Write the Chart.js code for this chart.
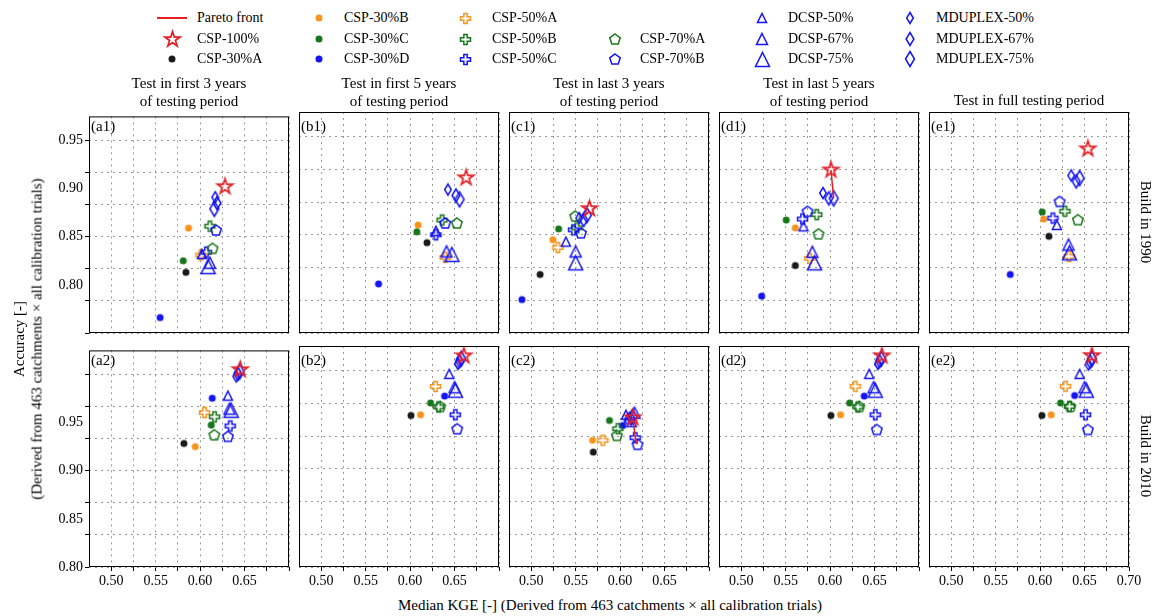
<!DOCTYPE html>
<html>
<head>
<meta charset="utf-8">
<script src="https://cdn.jsdelivr.net/npm/chart.js@4.4.0/dist/chart.umd.min.js"></script>
<style>
  body { margin: 0; background: #fff; }
  #fig { position: relative; width: 1154px; height: 616px; overflow: hidden; background: #fff;
         font-family: 'Liberation Serif', 'Times New Roman', serif; color: #000; }
  .txt { position: absolute; white-space: nowrap; line-height: 1; }
  #fig canvas { position: absolute; }
</style>
</head>
<body>
<div id="fig"></div>
<script>
// methods, in legend order
const methods = ['CSP-100%', 'CSP-30%A', 'CSP-30%B', 'CSP-30%C', 'CSP-30%D',
  'CSP-50%A', 'CSP-50%B', 'CSP-50%C', 'CSP-70%A', 'CSP-70%B',
  'DCSP-50%', 'DCSP-67%', 'DCSP-75%', 'MDUPLEX-50%', 'MDUPLEX-67%', 'MDUPLEX-75%'];

// median KGE / accuracy per method, one pair of arrays per panel
const kgeA1 = [0.628, 0.584, 0.587, 0.581, 0.555, 0.601, 0.611, 0.607, 0.614, 0.618, 0.602, 0.611, 0.609, 0.617, 0.619, 0.616];
const accA1 = [0.902, 0.813, 0.859, 0.825, 0.766, 0.831, 0.861, 0.834, 0.838, 0.857, 0.832, 0.823, 0.819, 0.891, 0.885, 0.879];
const kgeB1 = [0.663, 0.619, 0.609, 0.6076, 0.5645, 0.6395, 0.636, 0.629, 0.6526, 0.6395, 0.629, 0.641, 0.647, 0.6425, 0.6515, 0.6556];
const accB1 = [0.908, 0.842, 0.860, 0.853, 0.800, 0.827, 0.865, 0.850, 0.862, 0.862, 0.854, 0.833, 0.830, 0.896, 0.890, 0.886];
const kgeC1 = [0.5656, 0.510, 0.5244, 0.5308, 0.4895, 0.530, 0.5514, 0.5476, 0.5495, 0.556, 0.539, 0.550, 0.550, 0.554, 0.559, 0.5626];
const accC1 = [0.8766, 0.8096, 0.845, 0.856, 0.784, 0.837, 0.857, 0.855, 0.869, 0.852, 0.843, 0.833, 0.8214, 0.867, 0.865, 0.870];
const kgeD1 = [0.601, 0.5608, 0.5608, 0.5506, 0.523, 0.577, 0.585, 0.569, 0.587, 0.5746, 0.570, 0.580, 0.5825, 0.592, 0.5985, 0.604];
const accD1 = [0.916, 0.8187, 0.857, 0.865, 0.7876, 0.826, 0.8705, 0.866, 0.851, 0.874, 0.8586, 0.8326, 0.8214, 0.8925, 0.887, 0.887];
const kgeE1 = [0.6538, 0.6099, 0.604, 0.6024, 0.5664, 0.6325, 0.628, 0.6144, 0.6425, 0.6219, 0.6188, 0.632, 0.633, 0.635, 0.6406, 0.6444];
const accE1 = [0.9375, 0.8485, 0.866, 0.8732, 0.8096, 0.828, 0.874, 0.867, 0.8654, 0.884, 0.860, 0.840, 0.8316, 0.9104, 0.9043, 0.9077];
const kgeA2 = [0.6451, 0.5818, 0.5945, 0.6125, 0.6136, 0.605, 0.6163, 0.6339, 0.616, 0.6313, 0.6313, 0.633, 0.635, 0.6406, 0.6425, 0.6444];
const accA2 = [1.005, 0.9283, 0.925, 0.9475, 0.9753, 0.9604, 0.956, 0.9465, 0.9374, 0.9357, 0.978, 0.9645, 0.9628, 0.998, 1.0007, 1.003];
const kgeB2 = [0.6605, 0.601, 0.6118, 0.623, 0.6388, 0.6286, 0.632, 0.6508, 0.6339, 0.653, 0.644, 0.650, 0.651, 0.6538, 0.6556, 0.6575];
const accB2 = [1.015, 0.9543, 0.955, 0.967, 0.974, 0.9838, 0.963, 0.955, 0.9635, 0.9408, 0.9966, 0.983, 0.980, 1.0068, 1.0095, 1.012];
const kgeC2 = [0.6144, 0.5698, 0.569, 0.588, 0.6028, 0.5806, 0.5975, 0.617, 0.5964, 0.6196, 0.6066, 0.6163, 0.6103, 0.6085, 0.6122, 0.614];
const accC2 = [0.952, 0.917, 0.929, 0.9492, 0.944, 0.929, 0.9408, 0.9316, 0.934, 0.9249, 0.955, 0.957, 0.950, 0.950, 0.951, 0.953];
const kgeD2 = [0.6583, 0.6009, 0.6118, 0.6219, 0.6384, 0.6283, 0.6313, 0.6508, 0.6328, 0.6526, 0.644, 0.6489, 0.6508, 0.6538, 0.6556, 0.6575];
const accD2 = [1.015, 0.9543, 0.955, 0.967, 0.974, 0.984, 0.963, 0.955, 0.9635, 0.940, 0.9966, 0.983, 0.980, 1.0068, 1.0095, 1.012];
const kgeE2 = [0.6583, 0.602, 0.6125, 0.623, 0.6388, 0.6286, 0.633, 0.6511, 0.634, 0.6538, 0.6444, 0.650, 0.652, 0.6545, 0.6564, 0.6583];
const accE2 = [1.0152, 0.9543, 0.955, 0.967, 0.9746, 0.984, 0.9635, 0.955, 0.9635, 0.940, 0.9966, 0.983, 0.980, 1.006, 1.009, 1.012];

// indices of the methods on each panel's Pareto front
const frontD1 = [0, 15];
const frontC2 = [0, 7, 9];

const xTickLabels = [0.50, 0.55, 0.60, 0.65, 0.70];
const yTickLabels = [0.80, 0.85, 0.90, 0.95];
const colTitles = [['Test in first 3 years', 'of testing period'], ['Test in first 5 years', 'of testing period'],
  ['Test in last 3 years', 'of testing period'], ['Test in last 5 years', 'of testing period'], ['Test in full testing period']];
const rowTitles = ['Build in 1990', 'Build in 2010'];

const RED = '#e61e24', BLACK = '#1a1a1a', ORANGE = '#f7941d', GREEN = '#17761b', BLUE = '#1414f2';
const markerStyle = [
  ['star', RED, 16, false],
  ['circle', BLACK, 7, true], ['circle', ORANGE, 7, true], ['circle', GREEN, 7, true], ['circle', BLUE, 7, true],
  ['plus', ORANGE, 10, false], ['plus', GREEN, 10, false], ['plus', BLUE, 10, false],
  ['pentagon', GREEN, 11, false], ['pentagon', BLUE, 11, false],
  ['triangle', BLUE, 9, false], ['triangle', BLUE, 11, false], ['triangle', BLUE, 14, false],
  ['diamond', BLUE, 11, false], ['diamond', BLUE, 13, false], ['diamond', BLUE, 15, false],
];

function makeMarker(shape, color, size, filled) {
  const lw = shape === 'star' ? 1.7 : 1.5;
  const dim = Math.ceil(size + lw + 3);
  const c = document.createElement('canvas');
  c.width = dim; c.height = dim;
  const g = c.getContext('2d');
  g.translate(dim / 2, dim / 2);
  g.strokeStyle = color; g.fillStyle = color; g.lineWidth = lw; g.lineJoin = 'miter';
  const r = size / 2;
  g.beginPath();
  if (shape === 'circle') {
    g.arc(0, 0, r, 0, Math.PI * 2);
  } else {
    let pts = [];
    if (shape === 'star') {
      for (let k = 0; k < 10; k++) {
        const rr = k % 2 ? r * 0.382 : r, a = -Math.PI / 2 + k * Math.PI / 5;
        pts.push([rr * Math.cos(a), rr * Math.sin(a)]);
      }
    } else if (shape === 'pentagon') {
      for (let k = 0; k < 5; k++) {
        const a = -Math.PI / 2 + k * 2 * Math.PI / 5;
        pts.push([r * Math.cos(a), r * Math.sin(a) + 0.5]);
      }
    } else if (shape === 'triangle') {
      pts = [[0, -r], [r, r], [-r, r]];
    } else if (shape === 'diamond') {
      pts = [[0, -r], [0.6 * r, 0], [0, r], [-0.6 * r, 0]];
    } else if (shape === 'plus') {
      const u = r / 3;
      pts = [[-u, -3 * u], [u, -3 * u], [u, -u], [3 * u, -u], [3 * u, u], [u, u], [u, 3 * u], [-u, 3 * u],
        [-u, u], [-3 * u, u], [-3 * u, -u], [-u, -u]];
    }
    pts.forEach(([x, y], i) => (i ? g.lineTo(x, y) : g.moveTo(x, y)));
    g.closePath();
  }
  if (filled) g.fill(); else g.stroke();
  return c;
}

const markers = markerStyle.map(m => makeMarker(...m));

const fig = document.getElementById('fig');

function addText(str, x, y, size, rot, alignLeft) {
  const d = document.createElement('div');
  d.className = 'txt';
  d.textContent = str;
  d.style.fontSize = size + 'px';
  d.style.left = x + 'px';
  d.style.top = y + 'px';
  d.style.transform = 'translate(' + (alignLeft ? '0' : '-50%') + ', -50%)' + (rot ? ' rotate(' + rot + 'deg)' : '');
  fig.appendChild(d);
}

// panel frames
const PANEL_X = [89, 299, 509, 719, 929];
const PANEL_Y = [110, 344];
const PANEL_W = 200, PANEL_H = 223;
const Y_RANGE = [[0.75, 0.975], [0.80, 1.025]];

const framePlugin = {
  id: 'frame',
  afterDraw(chart) {
    const { ctx, chartArea: a } = chart;
    ctx.save();
    ctx.strokeStyle = '#000';
    ctx.lineWidth = 1;
    ctx.strokeRect(a.left + 0.5, a.top + 0.5, a.right - a.left - 1, a.bottom - a.top - 1);
    ctx.restore();
  }
};

Chart.defaults.font.family = "'Liberation Serif', 'Times New Roman', serif";
Chart.defaults.font.size = 14;
Chart.defaults.color = '#000';

const panels = [
  { tag: '(a1)', row: 0, col: 0, kge: kgeA1, acc: accA1, front: [] },
  { tag: '(b1)', row: 0, col: 1, kge: kgeB1, acc: accB1, front: [] },
  { tag: '(c1)', row: 0, col: 2, kge: kgeC1, acc: accC1, front: [] },
  { tag: '(d1)', row: 0, col: 3, kge: kgeD1, acc: accD1, front: frontD1 },
  { tag: '(e1)', row: 0, col: 4, kge: kgeE1, acc: accE1, front: [] },
  { tag: '(a2)', row: 1, col: 0, kge: kgeA2, acc: accA2, front: [] },
  { tag: '(b2)', row: 1, col: 1, kge: kgeB2, acc: accB2, front: [] },
  { tag: '(c2)', row: 1, col: 2, kge: kgeC2, acc: accC2, front: frontC2 },
  { tag: '(d2)', row: 1, col: 3, kge: kgeD2, acc: accD2, front: [] },
  { tag: '(e2)', row: 1, col: 4, kge: kgeE2, acc: accE2, front: [] },
];

const xGrid = [];
for (let k = 0; k <= 8; k++) xGrid.push(0.50 + k * 0.025);

panels.forEach(p => {
  const left = PANEL_X[p.col], top = PANEL_Y[p.row];
  const [yMin, yMax] = Y_RANGE[p.row];
  const first = p.col === 0, bottom = p.row === 1, last = p.col === 4;
  const cv = document.createElement('canvas');
  cv.width = 50 + PANEL_W + 20;
  cv.height = 4 + PANEL_H + 26;
  cv.style.left = (left - 50) + 'px';
  cv.style.top = (top - 4) + 'px';
  fig.appendChild(cv);

  const datasets = methods.map((name, i) => ({
    label: name,
    data: [{ x: p.kge[i], y: p.acc[i] }],
    pointStyle: markers[i],
    pointRadius: 5,
    order: i === 0 ? 0 : 17 - i,
  }));
  if (p.front.length > 1) {
    datasets.push({
      label: 'Pareto front',
      data: p.front.map(i => ({ x: p.kge[i], y: p.acc[i] })),
      showLine: true,
      borderColor: RED,
      borderWidth: 1.5,
      pointRadius: 0,
      order: 1,
    });
  }

  new Chart(cv, {
    type: 'scatter',
    data: { datasets },
    options: {
      responsive: false,
      animation: false,
      devicePixelRatio: 1,
      events: [],
      layout: { padding: { left: 0, top: 4, right: 20, bottom: 0 } },
      plugins: { legend: { display: false }, tooltip: { enabled: false } },
      scales: {
        x: {
          type: 'linear', min: 0.475, max: 0.70,
          afterBuildTicks: s => { s.ticks = xGrid.map(v => ({ value: v })); },
          afterFit: s => { s.height = 26; },
          border: { display: false, dash: [2, 4] },
          grid: { color: '#9a9a9a', lineWidth: 1, drawTicks: bottom, tickLength: 4,
                  tickColor: '#000', tickBorderDash: [] },
          ticks: {
            display: bottom, padding: 2, maxRotation: 0, autoSkip: false,
            callback: v => {
              const hit = xTickLabels.find(t => Math.abs(t - v) < 1e-6);
              if (hit === undefined) return '';
              if (Math.abs(hit - 0.70) < 1e-6 && !last) return '';
              return hit.toFixed(2);
            }
          }
        },
        y: {
          type: 'linear', position: 'left', weight: 0, min: yMin, max: yMax,
          afterBuildTicks: s => {
            const t = [];
            for (let k = 0; k <= 6; k++) t.push({ value: yMin + k / 30 });
            s.ticks = t;
          },
          afterFit: s => { s.width = 4; },
          border: { display: false, dash: [2, 4] },
          grid: { color: '#9a9a9a', lineWidth: 1, drawTicks: first, tickLength: 4,
                  tickColor: '#000', tickBorderDash: [] },
          ticks: { display: false }
        },
        yl: {
          type: 'linear', position: 'left', weight: 1, min: yMin, max: yMax,
          afterBuildTicks: s => { s.ticks = yTickLabels.map(v => ({ value: v })); },
          afterFit: s => { s.width = 46; },
          border: { display: false },
          grid: { display: false, drawTicks: false },
          ticks: { display: first, padding: 2, callback: v => v.toFixed(2) }
        }
      }
    },
    plugins: [framePlugin]
  });

  addText(p.tag, left + 2, top + 16, 15, 0, true);
});

// column and row titles
colTitles.forEach((lines, c) => {
  const cx = PANEL_X[c] + PANEL_W / 2;
  if (lines.length === 2) {
    addText(lines[0], cx, 83, 15);
    addText(lines[1], cx, 101, 15);
  } else {
    addText(lines[0], cx, 100, 15);
  }
});
rowTitles.forEach((t, r) => addText(t, 1145, PANEL_Y[r] + PANEL_H / 2, 15, 90));

// axis titles
addText('Accuracy [-]', 19, 339, 15, -90);
addText('(Derived from 463 catchments \u00d7 all calibration trials)', 37, 339, 15, -90);
addText('Median KGE [-] (Derived from 463 catchments \u00d7 all calibration trials)', 610, 605, 15);

// legend
const legendCols = [
  { mx: 172, tx: 197, items: ['Pareto front', 0, 1] },
  { mx: 319, tx: 344, items: [2, 3, 4] },
  { mx: 465, tx: 492, items: [5, 6, 7] },
  { mx: 615, tx: 640, items: [null, 8, 9] },
  { mx: 762, tx: 788, items: [10, 11, 12] },
  { mx: 910, tx: 936, items: [13, 14, 15] },
];
const legendRows = [18, 39, 59];
legendCols.forEach(col => {
  col.items.forEach((it, r) => {
    if (it === null) return;
    const y = legendRows[r];
    if (it === 'Pareto front') {
      const ln = document.createElement('div');
      ln.style.cssText = 'position:absolute;left:' + (col.mx - 15) + 'px;top:' + (y - 1) + 'px;width:30px;height:1.5px;background:' + RED;
      fig.appendChild(ln);
      addText(it, col.tx, y, 14, 0, true);
      return;
    }
    const m = makeMarker(...markerStyle[it]);
    m.style.left = (col.mx - m.width / 2) + 'px';
    m.style.top = (y - m.height / 2) + 'px';
    fig.appendChild(m);
    addText(methods[it], col.tx, y, 14, 0, true);
  });
});
</script>
</body>
</html>
